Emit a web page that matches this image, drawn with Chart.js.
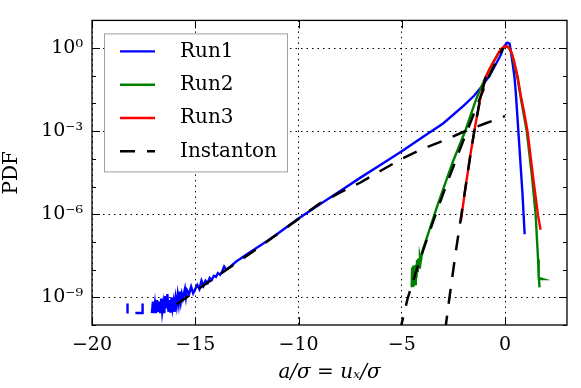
<!DOCTYPE html>
<html>
<head>
<meta charset="utf-8">
<script src="https://cdn.jsdelivr.net/npm/chart.js@4.4.0/dist/chart.umd.min.js"></script>
<style>
  html, body { margin: 0; padding: 0; background: #fff; }
  #wrap { width: 581px; height: 388px; }
</style>
</head>
<body>
<div id="wrap"><canvas id="myChart" width="581" height="388"></canvas></div>
<script>
// axis ticks
const xTicks = [-20, -15, -10, -5, 0];
const xTickLabels = ['\u221220', '\u221215', '\u221210', '\u22125', '0'];
const yTicks = [1e-10, 1e-9, 1e-8, 1e-7, 1e-6, 1e-5, 1e-4, 1e-3, 1e-2, 1e-1, 1, 10];
const yTickLabels = ['', '10\u207B\u2079', '', '', '10\u207B\u2076', '', '', '10\u207B\u00B3', '', '', '10\u2070', ''];

// Run1 (blue) - nulls break the noisy tail
const run1X = [-18.28, -18.28, -18.1,
  -17.9, -17.55, -17.55, -17.4,
  -17.1, -17.05, -17.0, -16.95, -16.9, -16.85, -16.8, -16.75, -16.7, -16.65,
  -16.6, -16.55, -16.5, -16.45, -16.4, -16.35, -16.3, -16.25, -16.2, -16.15,
  -16.1, -16.05, -16.0, -15.95, -15.9, -15.85, -15.8, -15.75, -15.7, -15.65,
  -15.6, -15.5, -15.45, -15.4, -15.3, -15.2, -15.1, -15.0, -14.9, -14.8,
  -14.7, -14.6, -14.5, -14.4, -14.3, -14.2, -14.1, -14.0, -13.9, -13.8,
  -13.7, -13.6, -13.5, -13.3, -13.0, -12.8, -12.5, -12.0, -11.5, -11.0,
  -10.0, -9.0, -8.0, -7.0, -6.0, -5.0, -4.0, -3.0, -2.0, -1.5,
  -1.18, -0.8, -0.53, -0.21, -0.05, 0.11, 0.22, 0.35, 0.45, 0.52,
  0.6, 0.68, 0.76, 0.84, 0.95];
const run1Y = [2.6e-10, 6e-10, null,
  2.7e-10, 2.7e-10, 6e-10, null,
  2.7e-10, 7e-10, 2.7e-10, 6e-10, 2.7e-10, 8e-10, 3e-10, 7e-10, 2.7e-10, 9e-10,
  3e-10, 6e-10, 2.7e-10, 1.1e-9, 4e-10, 1.3e-9, 3e-10, 8e-10, 2.8e-10, 1.0e-9,
  4e-10, 7e-10, 3e-10, 9e-10, 5e-10, 1.2e-9, 6e-10, 1.6e-9, 7e-10, 1.3e-9,
  9e-10, 2.0e-9, 1.0e-9, 1.8e-9, 1.3e-9, 2.4e-9, 1.4e-9, 2.0e-9, 2.8e-9, 2.0e-9,
  4.0e-9, 2.6e-9, 4.0e-9, 3.3e-9, 5.0e-9, 4.2e-9, 6.0e-9, 5.5e-9, 7.5e-9, 6.5e-9,
  8.5e-9, 1.3e-8, 1.0e-8, 1.3e-8, 2.0e-8, 2.5e-8, 3.6e-8, 6.3e-8, 1.1e-7, 2.0e-7,
  7e-7, 2.2e-6, 6.8e-6, 2.1e-5, 6.3e-5, 1.9e-4, 6.0e-4, 1.9e-3, 8.3e-3, 1.9e-2,
  3.7e-2, 8.9e-2, 0.2, 0.56, 1.15, 1.58, 1.45, 0.35, 0.1, 0.025,
  3.2e-3, 4.0e-4, 5.0e-5, 6.3e-6, 1.9e-7];

// Run2 (green)
const run2X = [-4.52, -4.5, -4.47, -4.44, -4.41, -4.38, -4.35, -4.32, -4.29, -4.26,
  -4.23, -4.2, -4.16, -4.12, -4.08, -4.0, -3.27, -2.54, -1.9, -1.42,
  -1.01, -0.61, -0.3, -0.15, 0.0, 0.1, 0.2, 0.32, 0.43, 0.6,
  0.76, 1.05, 1.3, 1.48, 1.6, 1.63, 1.8, 1.64, 1.67];
const run2Y = [2.3e-9, 1.2e-8, 2.3e-9, 1.4e-8, 2.5e-9, 1.0e-8, 3e-9, 1.5e-8, 5e-9, 2.2e-8,
  8e-9, 2.5e-8, 1.2e-8, 2.8e-8, 2.0e-8, 4.7e-8, 2.1e-6, 7.4e-5, 1.15e-3, 1.3e-2,
  6.9e-2, 0.27, 0.68, 0.93, 1.12, 1.12, 1.02, 0.66, 0.29, 0.085,
  1.6e-2, 1e-3, 2.5e-5, 1e-6, 2.3e-8, 5e-9, 4.6e-9, 4.6e-9, 2.3e-9];

// Run3 (red)
const run3X = [-2.14, -1.9, -1.66, -1.42, -1.18, -0.93, -0.75, -0.61, -0.45, -0.3,
  -0.15, 0.0, 0.1, 0.2, 0.32, 0.43, 0.6, 0.76, 0.92, 1.1,
  1.35, 1.6, 1.72];
const run3Y = [5.6e-7, 1.1e-5, 1.7e-4, 2.0e-3, 1.8e-2, 9.1e-2, 0.18, 0.27, 0.45, 0.71,
  0.98, 1.17, 1.15, 1.0, 0.68, 0.36, 0.1, 2.0e-2, 5e-3, 8.9e-4,
  2.5e-5, 8.9e-7, 2.75e-7];

// Instanton (three branches split by nulls)
const instX = [-15.9, -15, -14, -13, -12, -11, -10, -9, -8, -7, -6, -5, -4, -3, -2, -1, 0, 0.05,
  -5.1, -4.72, -4.15, -3.43, -2.79, -2.06, -1.5, -0.93, -0.5, -0.1, -0.05,
  -2.9, -2.71, -2.38, -2.14, -1.9, -1.66, -1.42, -1.18, -0.93];
const instY = [5.6e-10, 1.66e-9, 5.4e-9, 1.74e-8, 5.8e-8, 1.95e-7, 6.8e-7, 2.4e-6, 6e-6, 1.4e-5, 3.8e-5, 1.0e-4, 2.3e-4, 4.5e-4, 9.5e-4, 1.85e-3, 3.5e-3, null,
  5.6e-11, 8.9e-10, 2.0e-8, 7.1e-7, 1.45e-5, 3.8e-4, 4.5e-3, 5.2e-2, 0.26, 1.0, null,
  6.3e-11, 7.8e-10, 4.7e-8, 7.1e-7, 1.1e-5, 1.7e-4, 2.0e-3, 1.8e-2, 9.1e-2];

const serif = '"DejaVu Serif", serif';

function pairs(xs, ys) {
  return xs.map((x, i) => ({ x: x, y: ys[i] }));
}

// box round the plot + inward tick marks
const frame = {
  id: 'frame',
  afterDatasetsDraw(chart) {
    const { ctx, chartArea: a, scales: { x, y } } = chart;
    ctx.save();
    ctx.strokeStyle = '#000';
    ctx.lineWidth = 1;
    ctx.beginPath();
    xTicks.forEach(v => {
      const px = Math.round(x.getPixelForValue(v)) + 0.5;
      ctx.moveTo(px, a.bottom); ctx.lineTo(px, a.bottom - 8);
      ctx.moveTo(px, a.top); ctx.lineTo(px, a.top + 8);
    });
    yTicks.forEach((v, i) => {
      const py = Math.round(y.getPixelForValue(v)) + 0.5;
      const len = yTickLabels[i] ? 8 : 4;
      ctx.moveTo(a.left, py); ctx.lineTo(a.left + len, py);
      ctx.moveTo(a.right, py); ctx.lineTo(a.right - len, py);
    });
    ctx.stroke();
    ctx.lineWidth = 1.3;
    ctx.strokeRect(a.left, a.top, a.right - a.left, a.bottom - a.top);
    ctx.restore();
  }
};

const legendBox = {
  id: 'legendBox',
  afterDraw(chart) {
    const { ctx, chartArea: a } = chart;
    const left = a.left + 12, top = a.top + 13, w = 183, h = 138;
    ctx.save();
    ctx.fillStyle = '#fff';
    ctx.fillRect(left, top, w, h);
    ctx.strokeStyle = '#a0a0a0';
    ctx.lineWidth = 1;
    ctx.strokeRect(left + 0.5, top + 0.5, w, h);
    chart.data.datasets.forEach((ds, i) => {
      const yy = top + 18 + i * 33.3;
      ctx.strokeStyle = ds.borderColor;
      ctx.lineWidth = ds.borderWidth;
      ctx.setLineDash(ds.borderDash || []);
      ctx.beginPath();
      ctx.moveTo(left + 16, yy);
      ctx.lineTo(left + 51, yy);
      ctx.stroke();
      ctx.setLineDash([]);
      ctx.fillStyle = '#000';
      ctx.font = '20px ' + serif;
      ctx.textBaseline = 'middle';
      ctx.fillText(ds.label, left + 76, yy);
    });
    ctx.restore();
  }
};

const ctx = document.querySelector('#myChart').getContext('2d');
new Chart(ctx, {
  type: 'line',
  data: {
    datasets: [
      { label: 'Run1', data: pairs(run1X, run1Y), borderColor: '#0000ff', borderWidth: 2.4, order: 3 },
      { label: 'Run2', data: pairs(run2X, run2Y), borderColor: '#008000', borderWidth: 2.4, order: 2 },
      { label: 'Run3', data: pairs(run3X, run3Y), borderColor: '#ff0000', borderWidth: 2.4, order: 1 },
      { label: 'Instanton', data: pairs(instX, instY), borderColor: '#000000', borderWidth: 2.5, borderDash: [15, 12], order: 0 }
    ]
  },
  options: {
    responsive: false,
    animation: false,
    devicePixelRatio: 1,
    layout: { padding: { left: 0, right: 14, top: 15, bottom: 0 } },
    datasets: { line: { pointRadius: 0, tension: 0, spanGaps: false, fill: false } },
    plugins: { legend: { display: false }, tooltip: { enabled: false } },
    scales: {
      x: {
        type: 'linear', min: -20, max: 3,
        afterBuildTicks: s => { s.ticks = xTicks.map(v => ({ value: v })); },
        afterFit: s => { s.height = 63; },
        ticks: { callback: (v, i) => xTickLabels[i], padding: 9, autoSkip: false, maxRotation: 0,
                 color: '#000', font: { family: serif, size: 19 } },
        grid: { color: '#000', lineWidth: 1, drawTicks: false },
        border: { display: false, dash: [1.5, 4] },
        title: { display: true, text: 'a/\u03C3 = u\u2093/\u03C3', color: '#000',
                 font: { family: serif, size: 20, style: 'italic' }, padding: { top: 0, bottom: 3 } }
      },
      y: {
        type: 'logarithmic', min: 1e-10, max: 10,
        afterBuildTicks: s => { s.ticks = yTicks.map(v => ({ value: v })); },
        afterFit: s => { s.width = 92; },
        ticks: { callback: (v, i) => yTickLabels[i], padding: 9, autoSkip: false,
                 color: '#000', font: { family: serif, size: 19 } },
        grid: { color: c => (yTickLabels[c.index] ? '#000' : 'rgba(0,0,0,0)'), lineWidth: 1, drawTicks: false },
        border: { display: false, dash: [1.5, 4] },
        title: { display: true, text: 'PDF', color: '#000', font: { family: serif, size: 20 }, padding: 0 }
      }
    }
  },
  plugins: [frame, legendBox]
});
</script>
</body>
</html>
